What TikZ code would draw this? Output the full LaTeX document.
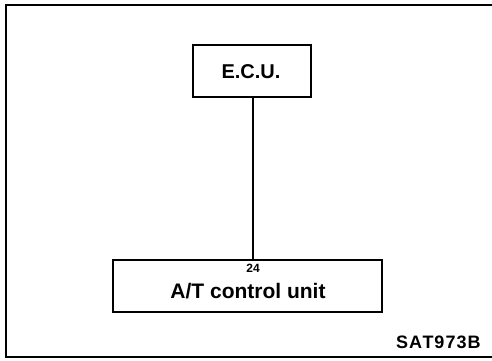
\documentclass[tikz,border=0pt]{standalone}
\usepackage{fontspec}
\setmainfont{Liberation Sans}
\begin{document}
\begin{tikzpicture}[x=1pt,y=-1pt,
  box/.style={draw,line width=1.6pt,inner sep=0pt},
  conn/.style={line width=1.4pt},
  frame/.style={line width=1.8pt}]
\useasboundingbox (0,0) rectangle (492,360);
\draw[frame] (498,5) -- (6,5) -- (6,357) -- (498,357);
\node[box,minimum width=118pt,minimum height=52pt] (ecu) at (252,71) {};
\node[font=\bfseries\fontsize{20}{20}\selectfont] (ecut) at (251,72) {E.C.U.};
\node[box,minimum width=269pt,minimum height=52pt] (atcu) at (247.5,286) {};
\node[font=\bfseries\fontsize{21}{21}\selectfont] (atcut) at (248,291) {A/T control unit};
\node[font=\bfseries\fontsize{12}{12}\selectfont] (pin) at (253,268) {24};
\draw[conn] (253,97) -- (253,260);
\node[font=\bfseries\fontsize{18}{18}\selectfont,text width=84pt,align=center] (code) at (438,342) {S\kern1ptA\kern0.5ptT\kern1pt9\kern1pt7\kern1pt3\kern1ptB};
\end{tikzpicture}
\end{document}
